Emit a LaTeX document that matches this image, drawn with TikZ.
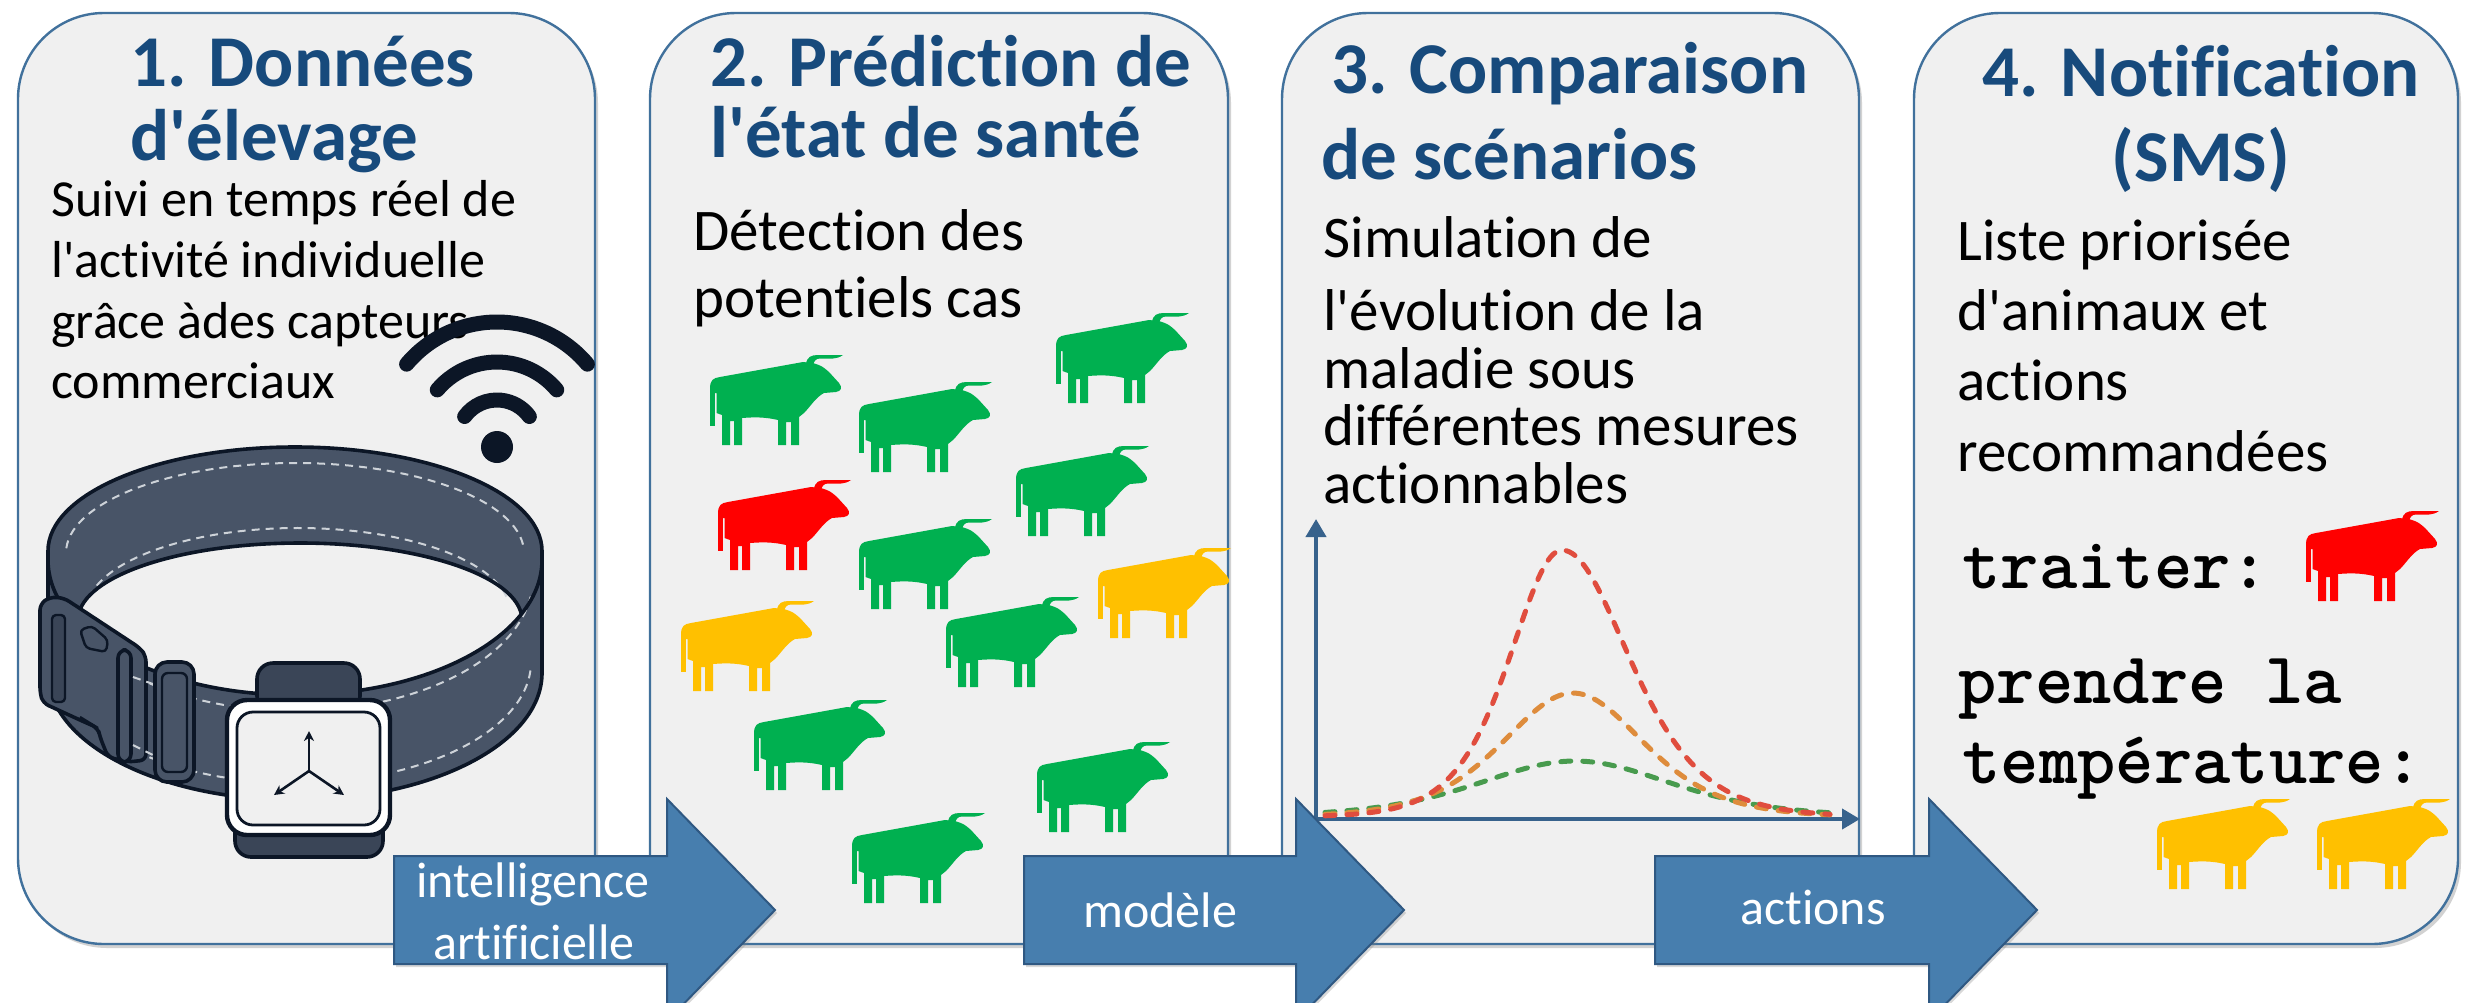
\documentclass[tikz,border=0pt]{standalone}
\usepackage{fontspec}
\setmainfont{Carlito}[Ligatures={TeX,NoCommon}]
\usetikzlibrary{arrows.meta,shadows}

\definecolor{panelfill}{RGB}{240,240,240}
\definecolor{panelline}{RGB}{65,113,156}
\definecolor{titleblue}{RGB}{23,74,124}
\definecolor{arrowfill}{RGB}{71,126,174}
\definecolor{arrowline}{RGB}{47,88,130}
\definecolor{band}{RGB}{72,84,103}
\definecolor{banddark}{RGB}{58,69,87}
\definecolor{ink}{RGB}{12,22,38}
\definecolor{stitchc}{RGB}{205,210,216}
\definecolor{cowgreen}{RGB}{0,176,80}
\definecolor{cowred}{RGB}{255,0,0}
\definecolor{cowyellow}{RGB}{255,192,0}
\definecolor{axisc}{RGB}{55,98,140}
\definecolor{cred}{RGB}{224,77,62}
\definecolor{corange}{RGB}{222,140,60}
\definecolor{cgreen}{RGB}{72,155,78}

\newcommand\ap{\textquotesingle}

\tikzset{
  panel/.style={draw=panelline, line width=1.2pt, fill=panelfill, rounded corners=43pt,
    inner sep=0pt, drop shadow={shadow xshift=1.5pt, shadow yshift=-2pt, opacity=.35}},
  ttl/.style={anchor=base west, inner sep=0pt, text=titleblue,
    font=\fontsize{36.5pt}{40pt}\selectfont\bfseries},
  ttlc/.style={ttl, anchor=base},
  txtA/.style={anchor=base west, inner sep=0pt, font=\fontsize{26pt}{30pt}\selectfont},
  txt/.style={anchor=base west, inner sep=0pt, font=\fontsize{29.5pt}{34pt}\selectfont},
  sms/.style={anchor=base west, inner sep=0pt, font=\fontsize{36.5pt}{40pt}\selectfont\ttfamily\bfseries},
  blockarrow/.style={fill=arrowfill, draw=arrowline, line width=1pt, line join=miter,
    drop shadow={shadow xshift=1pt, shadow yshift=-1.5pt, opacity=.3}},
  arrowtext/.style={anchor=base, inner sep=0pt, text=white, font=\fontsize{25pt}{30pt}\selectfont},
  inkline/.style={draw=ink, line width=1.8pt, line join=round},
  stitch/.style={draw=stitchc, line width=1pt, dash pattern=on 4pt off 3pt},
  simcurve/.style={line width=2.5pt, line cap=round, dash pattern=on 5pt off 6pt},
  axisline/.style={draw=axisc, line width=2pt, -{Triangle[length=9pt,width=10pt]}},
  wifiarc/.style={draw=ink, line width=7.5pt, line cap=round},
  pics/cow/.style={code={
    % body, head and legs
    \fill[#1] (0,34) .. controls (0,25) and (3,23) .. (10,22) -- (93,7) -- (103,8)
      .. controls (112,11) .. (119,17) -- (129,28) .. controls (133,33) and (131,36) .. (126,37)
      -- (114,38) .. controls (106,42) and (100,52) .. (94,58) -- (89,62) -- (89,90) -- (81,90)
      -- (81,67) -- (76,67) -- (76,90) -- (68,90) -- (68,65) .. controls (55,62) and (45,62) .. (32,63)
      -- (32,90) -- (24,90) -- (24,66) -- (20,66) -- (20,90) -- (12,90) -- (12,60) -- (6.5,58)
      -- (6.5,38) -- (0,38) -- cycle;
    % tail
    \fill[#1] (0,36) rectangle (4.8,71);
    % horn
    \fill[#1] (96,9) .. controls (97,2) and (101,0) .. (108,0) -- (133,0) .. controls (129,2.5) .. (123,3.5)
      -- (110,3.5) .. controls (106,3.5) and (104,6) .. (103,10) -- cycle;
  }},
}

\begin{document}
\begin{tikzpicture}[x=0.5pt, y=-0.5pt]
\useasboundingbox (0,0) rectangle (2466,1002);
\clip (0,0) rectangle (2466,1002);
\fill[white] (0,0) rectangle (2466,1002);

% ---- the four panels
\node[panel, minimum width=288.5pt, minimum height=465.5pt] (p1) at (306.5,478.5) {};
\node[panel, minimum width=289pt,   minimum height=465.5pt] (p2) at (939,478.5) {};
\node[panel, minimum width=288.5pt, minimum height=465.5pt] (p3) at (1570.5,478.5) {};
\node[panel, minimum width=272pt,   minimum height=465.5pt] (p4) at (2186,478.5) {};

% ---- panel 1: collar with sensor
\node[ttl] (h1a) at (130,86) {1. Données};
\node[ttl] (h1b) at (130,160) {d\ap élevage};
\node[txtA] (b1a) at (51,216) {Suivi en temps réel de};
\node[txtA] (b1b) at (51,277) {l\ap activité individuelle};
\node[txtA] (b1c) at (51,338) {grâce àdes capteurs};
\node[txtA] (b1d) at (51,398) {commerciaux};

% band silhouette
\path[inkline, fill=band] (48,551) arc[start angle=180, end angle=360, x radius=247, y radius=104]
  -- (542,673) arc[start angle=0, end angle=180, x radius=247, y radius=127] -- cycle;
% opening of the ring
\begin{scope}
  \clip (295,560) ellipse [x radius=247, y radius=135];
  \fill[panelfill] (300,620) ellipse [x radius=222, y radius=77];
\end{scope}
% stitching
\draw[stitch] ([shift={(183:229 and 90)}]295,553) arc[start angle=183, end angle=357, x radius=229, y radius=90];
\draw[stitch] ([shift={(190:212 and 84)}]298,612) arc[start angle=190, end angle=350, x radius=212, y radius=84];
\draw[stitch] ([shift={(8:238 and 133)}]295,578) arc[start angle=8, end angle=172, x radius=238, y radius=133];
\draw[stitch] ([shift={(4:236 and 121)}]295,662) arc[start angle=4, end angle=176, x radius=236, y radius=121];
% rim edges
\draw[inkline] ([shift={(176:222 and 77)}]300,620) arc[start angle=176, end angle=356, x radius=222, y radius=77];
\draw[inkline] (542,560) arc[start angle=0, end angle=180, x radius=247, y radius=135];

% buckle: female part
\path[inkline, fill=band, rounded corners=3pt] (40,604) -- (50,597) -- (64,598) -- (140,648) -- (146,656) -- (146,760)
  -- (128,762) -- (108,757) -- (100,737) -- (98,728) -- (80,720) -- (43,703) -- (40,693) -- cycle;
\path[inkline, fill=banddark, line width=1.2pt, rounded corners=2pt] (52,615) rectangle (65,702);
\path[inkline, fill=band, line width=1.2pt, rounded corners=2pt] (80,630) -- (92,626) -- (108,640) -- (106,652) -- (86,648) -- cycle;
\draw[inkline, line width=1.2pt] (80,717) -- (98,728);
% strap end and slider
\path[inkline, fill=band, rounded corners=4pt] (118,650) rectangle (131,762);
\draw[stitch] (133,677) -- (153,684);
\draw[stitch] (133,745) -- (153,755);
\path[inkline, fill=band, rounded corners=6pt] (155,662) rectangle (194,782);
\path[inkline, fill=band, line width=1.2pt, rounded corners=3pt] (162,673) rectangle (187,772);

% sensor housing
\path[inkline, fill=banddark, rounded corners=8pt] (257,663) rectangle (360,712);
\path[inkline, fill=banddark, rounded corners=8pt] (235,800) rectangle (383,857);
\path[inkline, fill=white, line width=2.2pt, rounded corners=10pt] (227,700) rectangle (390,835);
\path[inkline, fill=panelfill, line width=1.4pt, rounded corners=8pt] (237,712) rectangle (380,825);
\coordinate (ax0) at (309,771);
\coordinate (axu) at (309,731);
\coordinate (axl) at (274,795);
\coordinate (axr) at (344,795);
\foreach \e in {axu,axl,axr}
  \draw[ink, line width=1.3pt, -{Stealth[length=5pt,width=5pt]}] (ax0) -- (\e);

% wireless symbol
\draw[wifiarc] ([shift={(220:118)}]497,440) arc[start angle=220, end angle=320, radius=118];
\draw[wifiarc] ([shift={(220:78)}]497,440) arc[start angle=220, end angle=320, radius=78];
\draw[wifiarc] ([shift={(216:40)}]497,440) arc[start angle=216, end angle=324, radius=40];
\fill[ink] (497,447) circle [radius=16];

% ---- panel 2: herd
\node[ttl] (h2a) at (710,86) {2. Prédiction de};
\node[ttl] (h2b) at (710,157) {l\ap état de santé};
\node[txt] (b2a) at (693,250) {Détection des};
\node[txt] (b2b) at (693,317) {potentiels cas};

\pic at (710,355) {cow=cowgreen};
\pic at (859,382) {cow=cowgreen};
\pic at (1056,313) {cow=cowgreen};
\pic at (718,480) {cow=cowred};
\pic at (1016,446) {cow=cowgreen};
\pic at (859,519) {cow=cowgreen};
\pic at (1098,548) {cow=cowyellow};
\pic at (681,601) {cow=cowyellow};
\pic at (946,597) {cow=cowgreen};
\pic at (754,700) {cow=cowgreen};
\pic at (1037,742) {cow=cowgreen};
\pic at (852,813) {cow=cowgreen};

% ---- panel 3: scenarios
\node[ttl] (h3a) at (1331,93) {3. Comparaison};
\node[ttl] (h3b) at (1321,179) {de scénarios};
\node[txt] (b3a) at (1323,257) {Simulation de};
\node[txt] (b3b) at (1323,330) {l\ap évolution de la};
\node[txt] (b3c) at (1323,388) {maladie sous};
\node[txt] (b3d) at (1323,445) {différentes mesures};
\node[txt] (b3e) at (1323,503) {actionnables};

\coordinate (orig) at (1316,821);
\coordinate (ytop) at (1316,519);
\coordinate (xstart) at (1314,819);
\coordinate (xend) at (1860,819);
\draw[axisline] (orig) -- (ytop);
\draw[axisline] (xstart) -- (xend);
\draw[simcurve, cgreen] plot[domain=1325:1830, samples=120, smooth]
  (\x,{817-56/(cosh((\x-1575)/130)^2)});
\draw[simcurve, corange] plot[domain=1325:1830, samples=120, smooth]
  (\x,{817-124/(cosh((\x-1573)/95)^2)});
\draw[simcurve, cred] plot[domain=1325:1830, samples=150, smooth]
  (\x,{817-267/(cosh((\x-1562)/ifthenelse(\x<1562,70,90))^2)});

% ---- panel 4: notification
\node[ttlc] (h4a) at (2201,96) {4. Notification};
\node[ttlc] (h4b) at (2201,181) {(SMS)};
\node[txt] (b4a) at (1957,260) {Liste priorisée};
\node[txt] (b4b) at (1957,330) {d\ap animaux et};
\node[txt] (b4c) at (1957,400) {actions};
\node[txt] (b4d) at (1957,471) {recommandées};
\node[sms] (s1) at (1962,588) {traiter:};
\node[sms] (s2) at (1958,703) {prendre la};
\node[sms] (s3) at (1962,783) {température:};
\pic at (2306,511) {cow=cowred};
\pic at (2157,799) {cow=cowyellow};
\pic at (2317,799) {cow=cowyellow};

% ---- block arrows between panels
\path[blockarrow] (394,856) -- (667,856) -- (667,799) -- (775,910) -- (667,1021) -- (667,964) -- (394,964) -- cycle;
\path[blockarrow] (1024,856) -- (1296,856) -- (1296,799) -- (1404,910) -- (1296,1021) -- (1296,964) -- (1024,964) -- cycle;
\path[blockarrow] (1655,856) -- (1929,856) -- (1929,799) -- (2037,910) -- (1929,1021) -- (1929,964) -- (1655,964) -- cycle;
\node[arrowtext] (a1a) at (533,897) {intelligence};
\node[arrowtext] (a1b) at (534,959) {artificielle};
\node[arrowtext] (a2) at (1160,927) {modèle};
\node[arrowtext] (a3) at (1813,924) {actions};
\end{tikzpicture}
\end{document}
